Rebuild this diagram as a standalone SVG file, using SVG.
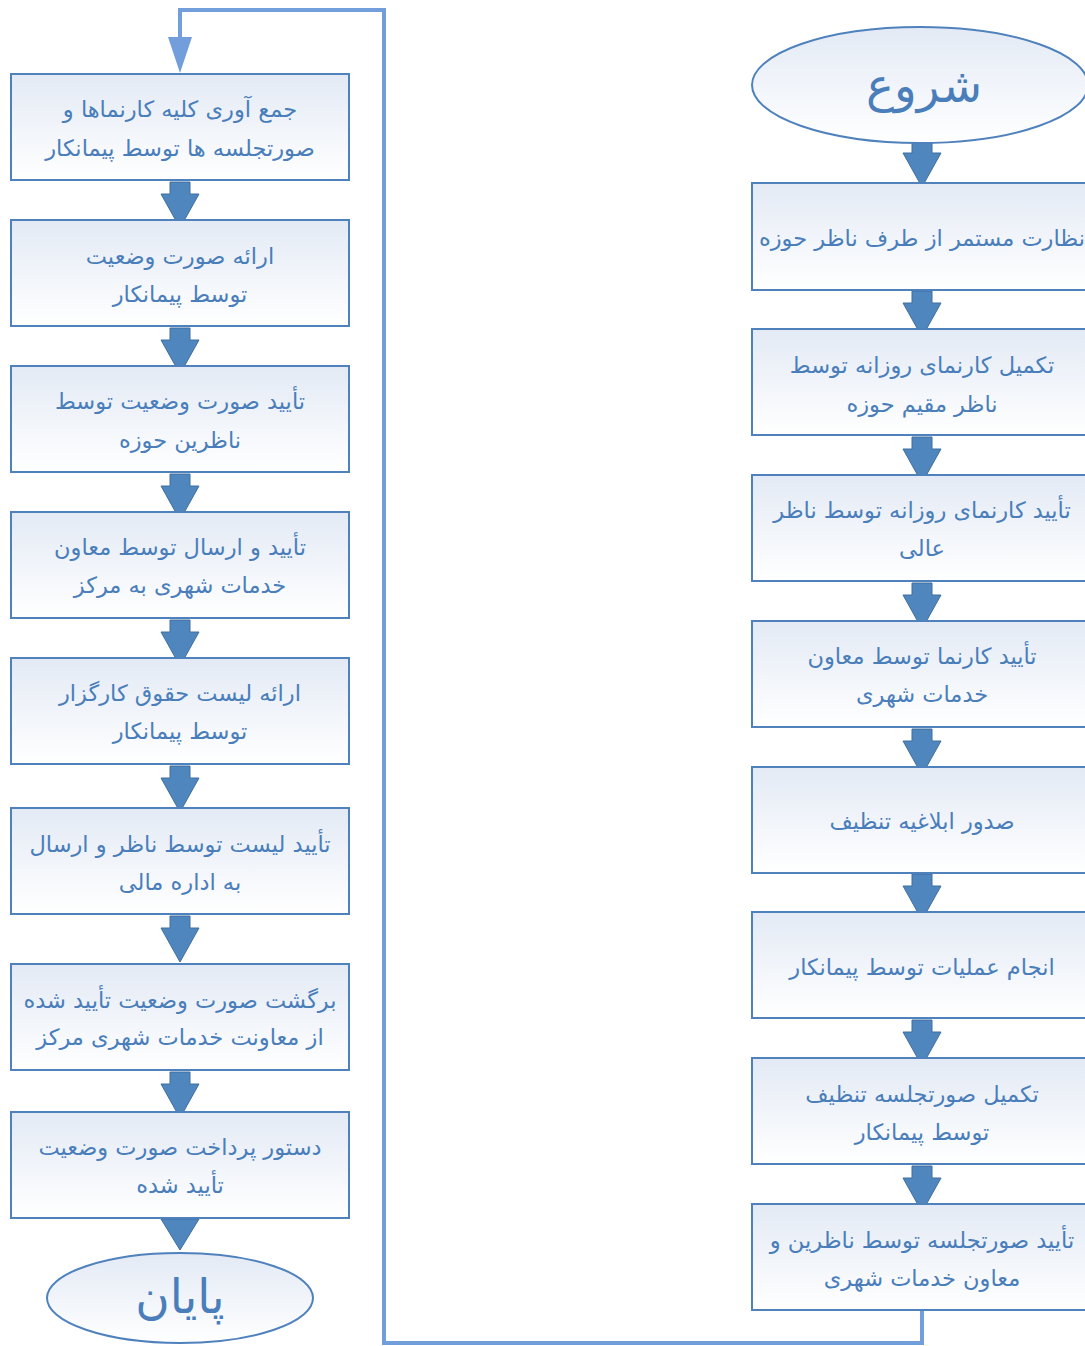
<svg xmlns="http://www.w3.org/2000/svg" width="1085" height="1346" viewBox="0 0 1085 1346">
<defs>
<linearGradient id="g" x1="0" y1="0" x2="0" y2="1">
<stop offset="0" stop-color="#e3eaf5"/>
<stop offset="1" stop-color="#ffffff"/>
</linearGradient>
<path id="arr" d="M-10,0 L10,0 L10,12 L19,12 L0,46 L-19,12 L-10,12 Z"/>
</defs>
<style>
.box{fill:url(#g);stroke:#4f81bd;stroke-width:2}
.ell{fill:url(#g);stroke:#4f81bd;stroke-width:2}
.t{font-family:"DejaVu Sans",sans-serif;font-size:22.5px;fill:#4a7ebb;text-anchor:middle;direction:rtl}
.big{font-size:47px}
.a{fill:#4f86bd;stroke:#3e6f9f;stroke-width:1}
.conn{fill:none;stroke:#729fdb;stroke-width:4}
.head{fill:#729fdb}
</style>
<g id="connectors">
<polyline class="conn" points="922,1310 922,1343 384,1343 384,10 180,10 180,40"/>
<polygon class="head" points="168,37 192,37 180,73"/>
<g class="a">
<use href="#arr" x="922" y="141"/>
<use href="#arr" x="922" y="291"/>
<use href="#arr" x="922" y="437"/>
<use href="#arr" x="922" y="583"/>
<use href="#arr" x="922" y="729"/>
<use href="#arr" x="922" y="874"/>
<use href="#arr" x="922" y="1020"/>
<use href="#arr" x="922" y="1166"/>
<use href="#arr" x="180" y="182"/>
<use href="#arr" x="180" y="328"/>
<use href="#arr" x="180" y="474"/>
<use href="#arr" x="180" y="620"/>
<use href="#arr" x="180" y="766"/>
<use href="#arr" x="180" y="916"/>
<use href="#arr" x="180" y="1072"/>
<path d="M161,1219 L199,1219 L180,1250 Z"/>
</g>
</g>
<g id="start">
<ellipse class="ell" cx="920" cy="85" rx="168" ry="58"/>
<text class="t big" x="924" y="102">شروع</text>
</g>
<g id="r1"><rect class="box" x="752" y="183" width="340" height="107"/>
<text class="t" x="922" y="246">نظارت مستمر از طرف ناظر حوزه</text></g>
<g id="r2"><rect class="box" x="752" y="329" width="340" height="106"/>
<text class="t" x="922" y="373">تکمیل کارنمای روزانه توسط</text>
<text class="t" x="922" y="412">ناظر مقیم حوزه</text></g>
<g id="r3"><rect class="box" x="752" y="475" width="340" height="106"/>
<text class="t" x="922" y="518">تأیید کارنمای روزانه توسط ناظر</text>
<text class="t" x="922" y="556">عالی</text></g>
<g id="r4"><rect class="box" x="752" y="621" width="340" height="106"/>
<text class="t" x="922" y="664">تأیید کارنما توسط معاون</text>
<text class="t" x="922" y="702">خدمات شهری</text></g>
<g id="r5"><rect class="box" x="752" y="767" width="340" height="106"/>
<text class="t" x="922" y="829">صدور ابلاغیه تنظیف</text></g>
<g id="r6"><rect class="box" x="752" y="912" width="340" height="106"/>
<text class="t" x="922" y="975">انجام عملیات توسط پیمانکار</text></g>
<g id="r7"><rect class="box" x="752" y="1058" width="340" height="106"/>
<text class="t" x="922" y="1102">تکمیل صورتجلسه تنظیف</text>
<text class="t" x="922" y="1140">توسط پیمانکار</text></g>
<g id="r8"><rect class="box" x="752" y="1204" width="340" height="106"/>
<text class="t" x="922" y="1248">تأیید صورتجلسه توسط ناظرین و</text>
<text class="t" x="922" y="1286">معاون خدمات شهری</text></g>
<g id="l1"><rect class="box" x="11" y="74" width="338" height="106"/>
<text class="t" x="180" y="117">جمع آوری کلیه کارنماها و</text>
<text class="t" x="180" y="156">صورتجلسه ها توسط پیمانکار</text></g>
<g id="l2"><rect class="box" x="11" y="220" width="338" height="106"/>
<text class="t" x="180" y="264">ارائه صورت وضعیت</text>
<text class="t" x="180" y="302">توسط پیمانکار</text></g>
<g id="l3"><rect class="box" x="11" y="366" width="338" height="106"/>
<text class="t" x="180" y="409">تأیید صورت وضعیت توسط</text>
<text class="t" x="180" y="448">ناظرین حوزه</text></g>
<g id="l4"><rect class="box" x="11" y="512" width="338" height="106"/>
<text class="t" x="180" y="555">تأیید و ارسال توسط معاون</text>
<text class="t" x="180" y="593">خدمات شهری به مرکز</text></g>
<g id="l5"><rect class="box" x="11" y="658" width="338" height="106"/>
<text class="t" x="180" y="701">ارائه لیست حقوق کارگزار</text>
<text class="t" x="180" y="739">توسط پیمانکار</text></g>
<g id="l6"><rect class="box" x="11" y="808" width="338" height="106"/>
<text class="t" x="180" y="852">تأیید لیست توسط ناظر و ارسال</text>
<text class="t" x="180" y="890">به اداره مالی</text></g>
<g id="l7"><rect class="box" x="11" y="964" width="338" height="106"/>
<text class="t" x="180" y="1008">برگشت صورت وضعیت تأیید شده</text>
<text class="t" x="180" y="1045">از معاونت خدمات شهری مرکز</text></g>
<g id="l8"><rect class="box" x="11" y="1112" width="338" height="106"/>
<text class="t" x="180" y="1155">دستور پرداخت صورت وضعیت</text>
<text class="t" x="180" y="1193">تأیید شده</text></g>
<g id="end">
<ellipse class="ell" cx="180" cy="1298" rx="133" ry="45"/>
<text class="t big" x="180" y="1313">پایان</text>
</g>
</svg>
